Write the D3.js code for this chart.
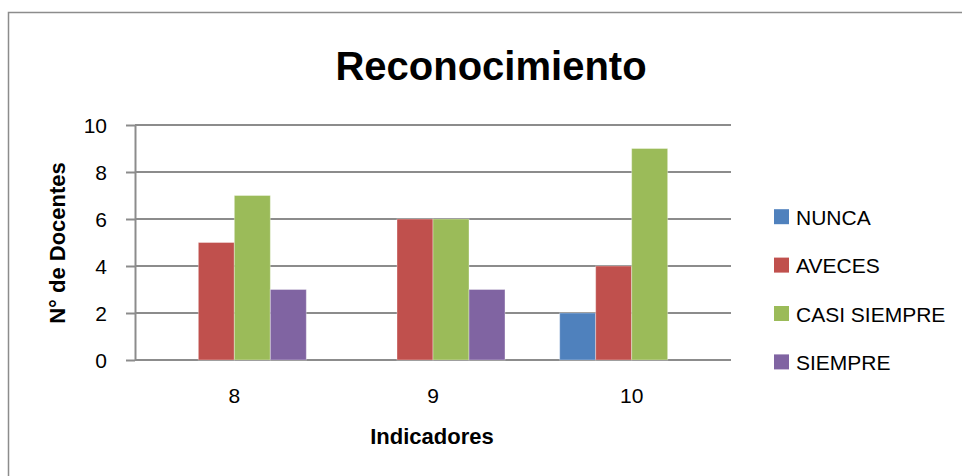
<!DOCTYPE html>
<html>
<head>
<meta charset="utf-8">
<script src="https://cdn.jsdelivr.net/npm/d3@7"></script>
<style>
  body { margin: 0; background: #fff; }
  svg text { font-family: "Liberation Sans", Arial, sans-serif; fill: #000; }
</style>
</head>
<body>
<div id="chart"></div>
<script>
// data
var categories = ['8', '9', '10'];
var seriesNames = ['NUNCA', 'AVECES', 'CASI SIEMPRE', 'SIEMPRE'];
var seriesColors = ['#4F81BD', '#C0504D', '#9BBB59', '#8064A2'];
var nunca = [0, 0, 2];
var aveces = [5, 6, 4];
var casiSiempre = [7, 6, 9];
var siempre = [3, 3, 0];
var yTicks = [0, 2, 4, 6, 8, 10];

var seriesValues = [nunca, aveces, casiSiempre, siempre];

var W = 962, H = 476;
var plot = { left: 135, right: 731, top: 125, bottom: 360 };
var gridColor = '#8c8c8c';

var svg = d3.select('#chart').append('svg')
  .attr('width', W)
  .attr('height', H);

// outer frame (runs off the right and bottom edge in the reference)
svg.append('rect')
  .attr('x', 8.5).attr('y', 12.5)
  .attr('width', 1000).attr('height', 600)
  .attr('fill', '#fff')
  .attr('stroke', gridColor)
  .attr('stroke-width', 1.5);

// scales
var x0 = d3.scaleBand()
  .domain(categories)
  .range([plot.left, plot.right])
  .padding(0);

var x1 = d3.scaleBand()
  .domain(seriesNames)
  .range([0, x0.bandwidth()])
  .paddingInner(0)
  .paddingOuter(0.76);

var y = d3.scaleLinear()
  .domain([0, 10])
  .range([plot.bottom, plot.top]);

// gridlines
svg.append('g').attr('class', 'grid')
  .selectAll('line')
  .data(yTicks)
  .enter().append('line')
  .attr('x1', plot.left)
  .attr('x2', plot.right)
  .attr('y1', function(d){ return y(d); })
  .attr('y2', function(d){ return y(d); })
  .attr('stroke', gridColor)
  .attr('stroke-width', 2);

// y axis
var yAxis = svg.append('g')
  .attr('transform', 'translate(' + plot.left + ',0)')
  .call(d3.axisLeft(y).tickValues(yTicks).tickSize(9).tickSizeOuter(0).tickPadding(19));
yAxis.select('.domain').attr('stroke', gridColor).attr('stroke-width', 2);
yAxis.selectAll('.tick line').attr('stroke', gridColor).attr('stroke-width', 2);
yAxis.selectAll('.tick text')
  .style('font-size', '21px')
  .attr('dy', '0.36em');

// bars
var groups = svg.append('g').selectAll('g')
  .data(categories)
  .enter().append('g')
  .attr('transform', function(d){ return 'translate(' + x0(d) + ',0)'; });

groups.selectAll('rect')
  .data(function(d, i){
    return seriesNames.map(function(s, j){
      return { name: s, value: seriesValues[j][i], color: seriesColors[j] };
    });
  })
  .enter().append('rect')
  .filter(function(d){ return d.value > 0; })
  .attr('x', function(d){ return x1(d.name); })
  .attr('width', x1.bandwidth())
  .attr('y', function(d){ return y(d.value); })
  .attr('height', function(d){ return y(0) - y(d.value); })
  .attr('fill', function(d){ return d.color; })
  .attr('stroke', 'rgba(255,255,255,0.35)')
  .attr('stroke-width', 1);

// x axis (labels only, the line is the 0 gridline)
var xAxis = svg.append('g')
  .attr('transform', 'translate(0,' + plot.bottom + ')')
  .call(d3.axisBottom(x0).tickSize(0).tickSizeOuter(0));
xAxis.select('.domain').remove();
xAxis.selectAll('.tick text')
  .style('font-size', '21px')
  .attr('y', 43)
  .attr('dy', 0);

// title
svg.append('text')
  .attr('x', 491)
  .attr('y', 80)
  .attr('text-anchor', 'middle')
  .style('font-size', '40px')
  .style('font-weight', 'bold')
  .text('Reconocimiento');

// axis titles
svg.append('text')
  .attr('x', 432)
  .attr('y', 444)
  .attr('text-anchor', 'middle')
  .style('font-size', '22px')
  .style('font-weight', 'bold')
  .text('Indicadores');

svg.append('text')
  .attr('transform', 'translate(65,243) rotate(-90)')
  .attr('text-anchor', 'middle')
  .style('font-size', '22px')
  .style('font-weight', 'bold')
  .text('N° de Docentes');

// legend
var legend = svg.append('g').selectAll('g')
  .data(seriesNames)
  .enter().append('g')
  .attr('transform', function(d, i){ return 'translate(774,' + (216.7 + i * 48.4) + ')'; });

legend.append('rect')
  .attr('x', 0)
  .attr('y', -7.5)
  .attr('width', 15)
  .attr('height', 15)
  .attr('fill', function(d, i){ return seriesColors[i]; });

legend.append('text')
  .attr('x', 22)
  .attr('y', 8)
  .style('font-size', '21px')
  .text(function(d){ return d; });
</script>
</body>
</html>
